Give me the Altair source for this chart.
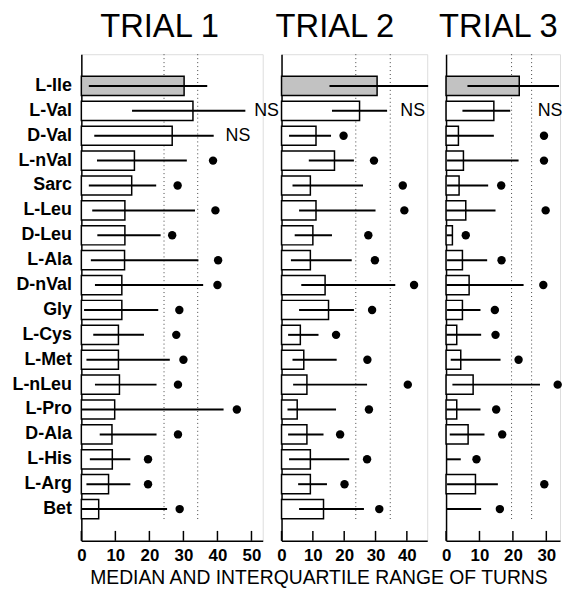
import altair as alt
import pandas as pd

FONT = "Liberation Sans"

amino = ["L-Ile", "L-Val", "D-Val", "L-nVal", "Sarc", "L-Leu", "D-Leu", "L-Ala", "D-nVal",
         "Gly", "L-Cys", "L-Met", "L-nLeu", "L-Pro", "D-Ala", "L-His", "L-Arg", "Bet"]
trials = ["TRIAL 1", "TRIAL 2", "TRIAL 3"]

# medians
median1 = [30.2, 32.8, 26.7, 15.6, 14.8, 12.8, 12.8, 12.7, 11.9, 11.9, 10.9, 10.9, 11.2, 9.8, 9.0, 9.1, 8.0, 5.1]
median2 = [30.5, 24.9, 11.0, 16.9, 9.2, 11.0, 10.0, 9.2, 13.9, 15.0, 6.0, 7.1, 8.1, 5.0, 8.1, 9.2, 9.2, 13.4]
median3 = [21.9, 14.3, 3.7, 5.2, 3.9, 5.9, 1.9, 4.9, 6.9, 4.9, 3.2, 4.4, 8.1, 3.2, 6.6, 0.0, 8.8, 0.0]

# interquartile range
q1_1 = [2.2, 14.9, 3.8, 4.6, 2.2, 3.2, 4.7, 2.8, 4.0, 0.8, 3.5, 1.5, 4.0, 0.2, 5.4, 2.5, 1.5, 0.2]
q3_1 = [37.0, 48.2, 38.9, 31.0, 22.0, 33.4, 23.3, 34.4, 35.8, 22.6, 18.4, 26.0, 22.1, 41.8, 22.1, 14.4, 14.4, 25.2]
q1_2 = [15.3, 16.1, 2.4, 8.7, 3.5, 5.6, 4.2, 3.0, 6.3, 5.6, 2.1, 3.5, 3.7, 1.9, 2.1, 2.4, 5.3, 5.6]
q3_2 = [46.8, 33.7, 15.8, 23.1, 26.0, 30.0, 16.1, 22.4, 36.3, 23.1, 11.8, 17.6, 27.3, 17.4, 13.4, 21.6, 14.5, 26.3]
q1_3 = [6.4, 4.9, 0.1, 0.3, 0.3, 0.1, 0.2, 0.3, 0.1, 0.3, 0.1, 1.4, 1.9, 0.1, 1.1, 0.1, 0.3, 0.1]
q3_3 = [33.8, 19.2, 14.3, 21.7, 12.6, 14.8, 1.9, 12.3, 23.2, 10.3, 10.5, 16.3, 28.1, 10.3, 11.5, 4.4, 15.5, 10.5]

# significance markers: kind and position
kind1 = ["", "NS", "NS"] + ["dot"] * 15
kind2 = ["", "NS"] + ["dot"] * 16
kind3 = ["", "NS"] + ["dot"] * 16
markx1 = [0, 50.8, 42.4, 38.7, 28.3, 39.4, 26.7, 40.2, 40.0, 28.8, 27.9, 30.0, 28.4, 45.7, 28.4, 19.6, 19.6, 28.9]
markx2 = [0, 37.9, 19.8, 29.5, 38.7, 39.2, 27.7, 29.8, 42.3, 28.9, 17.4, 27.4, 40.3, 27.9, 18.7, 27.3, 20.1, 31.2]
markx3 = [0, 27.4, 29.3, 29.3, 16.5, 29.8, 5.9, 16.6, 29.1, 14.6, 14.8, 21.7, 33.4, 15.0, 16.8, 9.1, 29.4, 16.1]

# dotted reference lines and axis ticks per panel
refs = [[24.3, 34.2], [23.7, 34.7], [19.6, 25.6]]
ticks = [[0, 10, 20, 30, 40, 50], [0, 10, 20, 30, 40], [0, 10, 20, 30]]
xmax = [53.3, 46.5, 34.1]
widths = [183, 147, 115]
title_dx = [19, -6, -7]

H = 491

series = [
    (median1, q1_1, q3_1, kind1, markx1),
    (median2, q1_2, q3_2, kind2, markx2),
    (median3, q1_3, q3_3, kind3, markx3),
]

rows = []
for t, (med, q1, q3, kd, mx) in zip(trials, series):
    for i, a in enumerate(amino):
        rows.append(dict(trial=t, aa=a, median=med[i], q1=q1[i], q3=q3[i],
                         kind=kd[i], mx=mx[i],
                         fillc="#c2c2c2" if a == "L-Ile" else "white"))
df = pd.DataFrame(rows)


def panel(p):
    t = trials[p]
    d = df[df.trial == t]
    base = alt.Chart(d)
    xscale = alt.Scale(domain=[0, xmax[p]], nice=False, zero=True)
    xaxis = alt.Axis(values=ticks[p], title=None, ticks=False, grid=False,
                     labelFontSize=17, labelFontWeight="bold", labelPadding=7,
                     labelColor="black", domainColor="black", domainWidth=1.5,
                     labelFlush=False, labelFont=FONT)
    yaxis = alt.Axis(title=None, labels=(p == 0), ticks=False, grid=False,
                     labelFontSize=18, labelFontWeight="bold", labelPadding=10,
                     labelColor="black", domainColor="black", domainWidth=1.5,
                     labelFont=FONT)
    yscale = alt.Scale(paddingInner=0.23, paddingOuter=0.89)

    def Y():
        return alt.Y("aa:N", sort=amino, scale=yscale, axis=yaxis)

    reflines = alt.Chart(pd.DataFrame({"r": refs[p]})).mark_rule(
        strokeDash=[1, 3], color="#444", strokeWidth=1
    ).encode(x=alt.X("r:Q", scale=xscale, axis=xaxis), y=alt.value(0), y2=alt.value(472))

    tickmarks = alt.Chart(pd.DataFrame({"tv": ticks[p]})).mark_rule(
        color="black", strokeWidth=1.5
    ).encode(x=alt.X("tv:Q", scale=xscale, axis=xaxis), y=alt.value(H - 10), y2=alt.value(H))

    bars = base.transform_filter("datum.median > 0").mark_bar(
        stroke="black", strokeWidth=1.5
    ).encode(
        x=alt.X("median:Q", scale=xscale, axis=xaxis),
        y=Y(),
        fill=alt.Fill("fillc:N", scale=None),
    )

    iqr = base.mark_rule(color="black", strokeWidth=2).encode(
        x=alt.X("q1:Q", scale=xscale, axis=xaxis), x2="q3:Q", y=Y()
    )

    dots = base.transform_filter("datum.kind == 'dot'").mark_circle(
        size=72, color="black", opacity=1
    ).encode(x=alt.X("mx:Q", scale=xscale, axis=xaxis), y=Y())

    ns = base.transform_filter("datum.kind == 'NS'").mark_text(
        text="NS", align="left", baseline="middle", fontSize=18, font=FONT, color="black"
    ).encode(x=alt.X("mx:Q", scale=xscale, axis=xaxis), y=Y())

    return alt.layer(reflines, tickmarks, bars, iqr, dots, ns).properties(
        width=widths[p], height=H,
        title=alt.Title(t, anchor="start", frame="group", dx=title_dx[p], fontSize=33,
                        fontWeight="normal", font=FONT, color="black", offset=10),
    )


chart = alt.hconcat(panel(0), panel(1), panel(2), spacing=19, bounds="flush").properties(
    title=alt.Title("MEDIAN AND INTERQUARTILE RANGE OF TURNS", orient="bottom",
                    anchor="middle", dx=32, fontSize=19.5, fontWeight="normal",
                    font=FONT, color="black", offset=5),
    padding={"left": 3, "top": 0, "right": 0, "bottom": 0},
).configure_view(stroke=None).configure(font=FONT)

chart.save("out.html", embed_options={"renderer": "svg", "actions": False})
